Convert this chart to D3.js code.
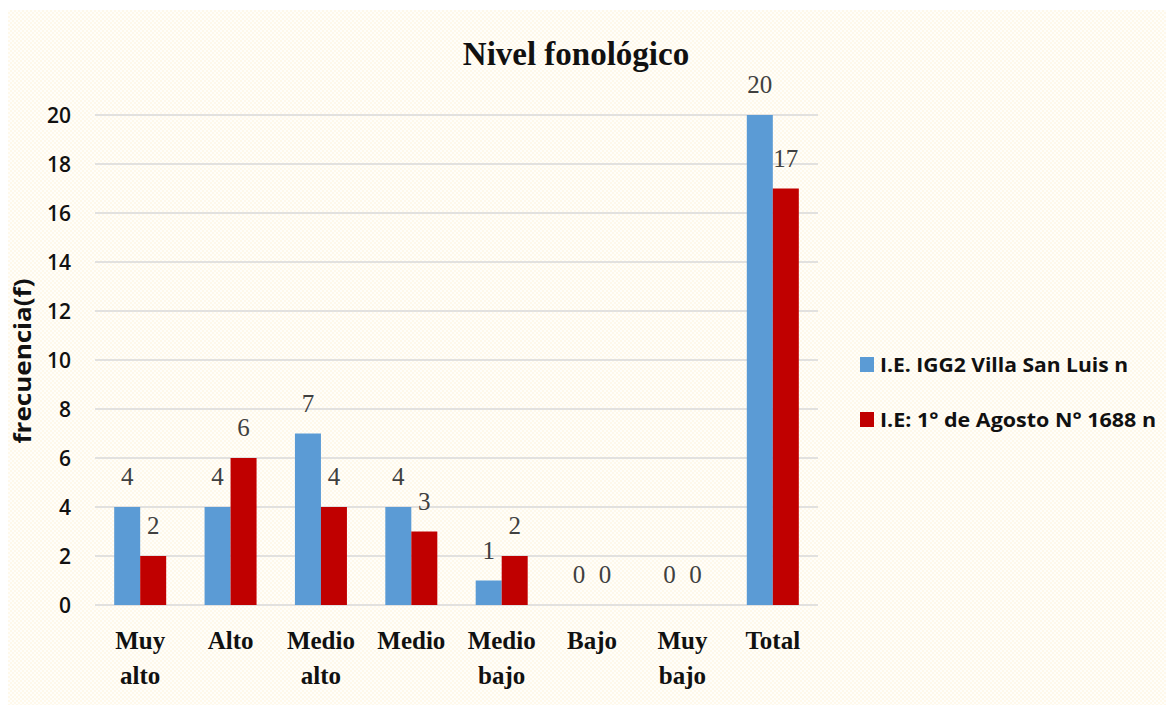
<!DOCTYPE html>
<html>
  <head>
    <meta charset="utf-8" />
    <title>Nivel fonológico</title>
    <style>
      body {
        margin: 0;
        background: #fff;
      }
    </style>
  </head>
  <body>
    <svg id="chart"></svg>
    <script src="https://cdn.jsdelivr.net/npm/d3@7"></script>
    <script>
      const width = 1172;
      const height = 711;

      const categories = [
        ["Muy", "alto"],
        ["Alto"],
        ["Medio", "alto"],
        ["Medio"],
        ["Medio", "bajo"],
        ["Bajo"],
        ["Muy", "bajo"],
        ["Total"]
      ];
      const seriesNames = [
        "I.E. IGG2 Villa San Luis n",
        "I.E: 1° de Agosto N° 1688 n"
      ];
      const villaSanLuis = [4, 4, 7, 4, 1, 0, 0, 20];
      const agosto1688 = [2, 6, 4, 3, 2, 0, 0, 17];
      const yTicks = [0, 2, 4, 6, 8, 10, 12, 14, 16, 18, 20];
      const colors = ["#5b9bd5", "#c00000"];

      const series = [villaSanLuis, agosto1688];
      const sans = "'Open Sans', sans-serif";

      const svg = d3
        .select("#chart")
        .attr("width", width)
        .attr("height", height);

      // dotted cream background
      const defs = svg.append("defs");
      const pat = defs
        .append("pattern")
        .attr("id", "dots")
        .attr("width", 4)
        .attr("height", 4)
        .attr("patternUnits", "userSpaceOnUse");
      pat.append("rect").attr("width", 4).attr("height", 4).attr("fill", "#fffefa");
      pat.append("circle").attr("cx", 1).attr("cy", 1).attr("r", 0.8).attr("fill", "#fdf1d6");
      pat.append("circle").attr("cx", 3).attr("cy", 3).attr("r", 0.8).attr("fill", "#fdf1d6");

      svg
        .append("rect")
        .attr("x", 8)
        .attr("y", 10)
        .attr("width", width - 14)
        .attr("height", height - 16)
        .attr("fill", "url(#dots)");

      const x0 = d3
        .scaleBand()
        .domain(d3.range(categories.length))
        .range([95, 818]);

      const x1 = d3
        .scaleBand()
        .domain(d3.range(series.length))
        .range([0, 52])
        .padding(0);

      const y = d3.scaleLinear().domain([0, 20]).range([605, 115]);

      // gridlines
      svg
        .append("g")
        .selectAll("line")
        .data(yTicks)
        .join("line")
        .attr("x1", 95)
        .attr("x2", 818)
        .attr("y1", (d) => y(d))
        .attr("y2", (d) => y(d))
        .attr("stroke", "#d9d9d9")
        .attr("stroke-width", 1.5);

      // y tick labels
      svg
        .append("g")
        .selectAll("text")
        .data(yTicks)
        .join("text")
        .attr("x", 71)
        .attr("y", (d) => y(d) + 8)
        .attr("text-anchor", "end")
        .attr("font-family", sans)
        .attr("font-size", 21)
        .attr("font-weight", 600)
        .attr("fill", "#111")
        .text((d) => d);

      // y axis title
      svg
        .append("text")
        .attr("transform", "translate(31,361) rotate(-90)")
        .attr("text-anchor", "middle")
        .attr("font-family", sans)
        .attr("font-size", 24)
        .attr("font-weight", 700)
        .attr("fill", "#111")
        .attr("textLength", 165)
        .attr("lengthAdjust", "spacingAndGlyphs")
        .text("frecuencia(f)");

      // bars
      const groups = svg
        .append("g")
        .selectAll("g")
        .data(categories)
        .join("g")
        .attr(
          "transform",
          (d, i) => `translate(${x0(i) + x0.bandwidth() / 2 - 26},0)`
        );

      groups
        .selectAll("rect")
        .data((d, i) => series.map((s, k) => ({ k, v: s[i] })))
        .join("rect")
        .attr("x", (d) => x1(d.k))
        .attr("width", x1.bandwidth())
        .attr("y", (d) => y(d.v))
        .attr("height", (d) => y(0) - y(d.v))
        .attr("fill", (d) => colors[d.k]);

      groups
        .selectAll("text.val")
        .data((d, i) => series.map((s, k) => ({ k, v: s[i] })))
        .join("text")
        .attr("class", "val")
        .attr("x", (d) => x1(d.k) + x1.bandwidth() / 2)
        .attr("y", (d) => y(d.v) - 22)
        .attr("text-anchor", "middle")
        .attr("font-family", "'Liberation Serif', serif")
        .attr("font-size", 25)
        .attr("fill", "#404040")
        .text((d) => d.v);

      // x labels
      const xl = svg
        .append("g")
        .selectAll("text")
        .data(categories)
        .join("text")
        .attr("x", (d, i) => x0(i) + x0.bandwidth() / 2)
        .attr("y", 649)
        .attr("text-anchor", "middle")
        .attr("font-family", "'Liberation Serif', serif")
        .attr("font-size", 25)
        .attr("font-weight", 700)
        .attr("fill", "#111");
      xl.selectAll("tspan")
        .data((d) => d)
        .join("tspan")
        .attr("x", function () {
          return this.parentNode.getAttribute("x");
        })
        .attr("dy", (d, i) => (i === 0 ? 0 : 35))
        .text((d) => d);

      // title
      svg
        .append("text")
        .attr("x", 576)
        .attr("y", 65)
        .attr("text-anchor", "middle")
        .attr("font-family", "'Liberation Serif', serif")
        .attr("font-size", 33)
        .attr("font-weight", 700)
        .attr("fill", "#111")
        .text("Nivel fonológico");

      // legend
      const legend = svg
        .append("g")
        .selectAll("g")
        .data(seriesNames)
        .join("g")
        .attr("transform", (d, i) => `translate(860,${364 + i * 55})`);
      legend
        .append("rect")
        .attr("x", 0)
        .attr("y", -7)
        .attr("width", 14)
        .attr("height", 15)
        .attr("fill", (d, i) => colors[i]);
      legend
        .append("text")
        .attr("x", 20)
        .attr("y", 8)
        .attr("font-family", sans)
        .attr("font-size", 20)
        .attr("font-weight", 700)
        .attr("fill", "#111")
        .attr("textLength", (d, i) => (i === 0 ? 248 : 276))
        .attr("lengthAdjust", "spacingAndGlyphs")
        .text((d) => d);
    </script>
  </body>
</html>
